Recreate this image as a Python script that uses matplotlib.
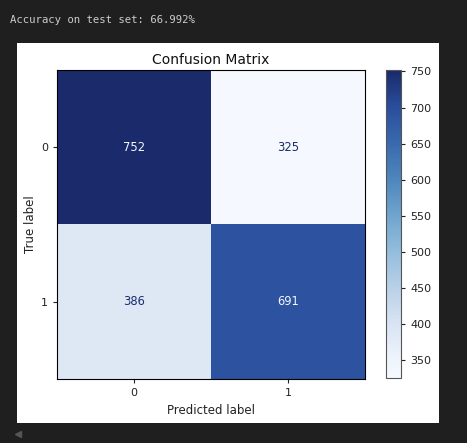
import matplotlib
matplotlib.use("Agg")
import matplotlib.pyplot as plt
import numpy as np
from matplotlib.colors import LinearSegmentedColormap
from matplotlib.patches import Rectangle

# data
class_labels = ["0", "1"]
cm_row0 = [752, 325]
cm_row1 = [386, 691]
accuracy = 66.992

cm = np.array([cm_row0, cm_row1])

# colormap (Blues as it appears there)
cmap = LinearSegmentedColormap.from_list("shot_blues", [
    (0.00, "#f5f9ff"),
    (0.06, "#eef4fc"),
    (0.18, "#d7e3f2"),
    (0.29, "#b9d1e8"),
    (0.41, "#94bddc"),
    (0.53, "#6fa4cd"),
    (0.64, "#5088be"),
    (0.76, "#3a6aae"),
    (0.88, "#2a4e9d"),
    (1.00, "#1a2a6b"),
])

W, H = 467, 443
fig = plt.figure(figsize=(W / 100, H / 100), dpi=100, facecolor="#1f1f1f")

# notebook output text + white figure area
fig.text(10 / W, 1 - 20 / H, "Accuracy on test set: %.3f%%" % accuracy,
         family="DejaVu Sans Mono", fontsize=7.7, color="#cccccc", va="center")
fig.patches.append(Rectangle((17 / W, 1 - 423 / H), 422 / W, 380 / H,
                             transform=fig.transFigure, facecolor="white",
                             edgecolor="none", zorder=-1))
fig.lines.append(plt.Line2D([18 / W], [1 - 434 / H], transform=fig.transFigure,
                            marker="<", markersize=4, color="#555555", lw=0))

ax = fig.add_axes([57 / W, 64 / H, 308 / W, 309 / H])
im = ax.imshow(cm, cmap=cmap, vmin=cm.min(), vmax=cm.max(), aspect="auto")

thresh = (cm.max() + cm.min()) / 2.0
for i in range(cm.shape[0]):
    for j in range(cm.shape[1]):
        c = cmap(0.0) if cm[i, j] > thresh else cmap(1.0)
        ax.text(j, i, str(cm[i, j]), ha="center", va="center", color=c, fontsize=8.3)

ax.set_xticks(range(len(class_labels)))
ax.set_xticklabels(class_labels)
ax.set_yticks(range(len(class_labels)))
ax.set_yticklabels(class_labels)
ax.tick_params(labelsize=8, length=3, colors="#222222")
ax.set_xlabel("Predicted label", fontsize=8.5, color="#222222")
ax.set_ylabel("True label", fontsize=8.5, color="#222222", labelpad=2.5)
ax.set_title("Confusion Matrix", fontsize=10, color="#111111", pad=4)

cax = fig.add_axes([386 / W, 65 / H, 15 / W, 308 / H])
cb = fig.colorbar(im, cax=cax)
cb.set_ticks([350, 400, 450, 500, 550, 600, 650, 700, 750])
cax.tick_params(labelsize=8, length=3, colors="#222222")
cb.outline.set_edgecolor("#555555")

fig.savefig("out.png", dpi=100, facecolor=fig.get_facecolor())
